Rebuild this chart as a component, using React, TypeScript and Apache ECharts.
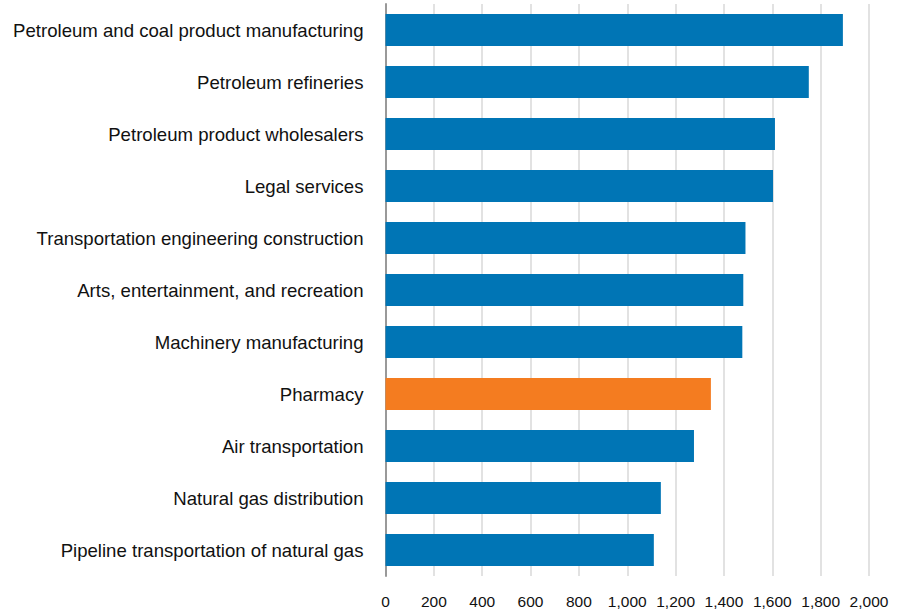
import React, { useEffect, useRef } from "react";
import * as echarts from "echarts";

const categories = [
  "Petroleum and coal product manufacturing",
  "Petroleum refineries",
  "Petroleum product wholesalers",
  "Legal services",
  "Transportation engineering construction",
  "Arts, entertainment, and recreation",
  "Machinery manufacturing",
  "Pharmacy",
  "Air transportation",
  "Natural gas distribution",
  "Pipeline transportation of natural gas",
];
const values = [1892, 1751, 1611, 1603, 1489, 1480, 1476, 1346, 1276, 1139, 1110];
const highlight = "Pharmacy";
const xTicks = { min: 0, max: 2000, interval: 200 };

export default function App() {
  const ref = useRef<HTMLDivElement>(null);
  useEffect(() => {
    const chart = echarts.init(ref.current!, null, { renderer: "svg" });
    chart.setOption({
      animation: false,
      grid: { left: 385.5, right: 31, top: 4, bottom: 37, containLabel: false },
      xAxis: {
        type: "value",
        min: xTicks.min,
        max: xTicks.max,
        interval: xTicks.interval,
        axisLine: { show: false },
        axisTick: { show: false },
        splitLine: { show: true, lineStyle: { color: "#d9d9d9", width: 1.5 } },
        axisLabel: {
          color: "#111",
          fontSize: 15.5,
          fontFamily: "Liberation Sans, Arial, sans-serif",
          margin: 17,
          formatter: (v: number) => v.toLocaleString("en-US"),
        },
      },
      yAxis: {
        type: "category",
        data: categories,
        inverse: true,
        axisLine: { show: true, lineStyle: { color: "#999", width: 2 } },
        axisTick: { show: false },
        axisLabel: {
          color: "#111",
          fontSize: 18.6,
          fontFamily: "Liberation Sans, Arial, sans-serif",
          margin: 22,
        },
      },
      series: [
        {
          type: "bar",
          barCategoryGap: "38%",
          data: categories.map((c, i) => ({
            value: values[i],
            itemStyle: { color: c === highlight ? "#F47C20" : "#0075B5" },
          })),
        },
      ],
    });
    return () => chart.dispose();
  }, []);
  return (
    <div
      ref={ref}
      style={{ position: "absolute", left: 0, top: 0, width: 900, height: 613 }}
    />
  );
}
